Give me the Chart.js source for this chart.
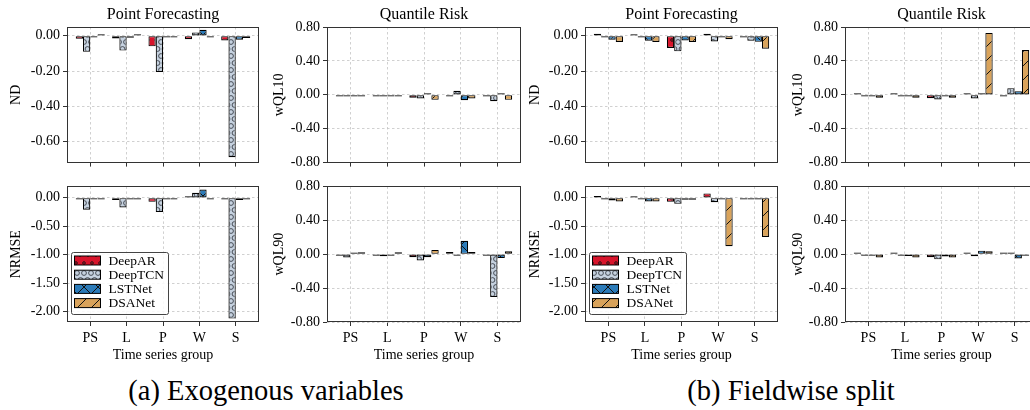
<!DOCTYPE html>
<html><head><meta charset="utf-8">
<script src="https://cdn.jsdelivr.net/npm/chart.js@4/dist/chart.umd.min.js"></script>
<style>
html,body{margin:0;padding:0;background:#fff;overflow:hidden}
#fig{position:relative;width:1030px;height:410px;overflow:hidden;background:#fff}
#fig canvas{position:absolute}
.cap{position:absolute;font-family:'Liberation Serif','Times New Roman',serif;font-size:28.5px;line-height:30px;color:#000;white-space:nowrap;transform:translateX(-50%)}
</style></head><body>
<div id="fig">
<canvas id="c0"></canvas><canvas id="c1"></canvas><canvas id="c2"></canvas><canvas id="c3"></canvas>
<canvas id="c4"></canvas><canvas id="c5"></canvas><canvas id="c6"></canvas><canvas id="c7"></canvas>
<div class="cap" style="left:266px;top:376px">(a) Exogenous variables</div>
<div class="cap" style="left:791px;top:376px">(b) Fieldwise split</div>
</div>
<script>
const groups = ['PS', 'L', 'P', 'W', 'S'];
const models = ['DeepAR', 'DeepTCN', 'LSTNet', 'DSANet'];
const ndTicks = [0, -0.2, -0.4, -0.6];
const wqlTicks = [0.8, 0.4, 0, -0.4, -0.8];
const nrmseTicks = [0, -0.5, -1, -1.5, -2];

// (a) Exogenous variables — rows: DeepAR, DeepTCN, LSTNet, DSANet; cols: PS, L, P, W, S
const exoND = [
  [-0.017, -0.015, -0.060, -0.019, -0.026],
  [-0.091, -0.084, -0.205, 0.019, -0.689],
  [-0.003, -0.011, -0.004, 0.034, -0.022],
  [0.002, 0.002, -0.009, -0.009, -0.013]
];
const exoWQL10 = [
  [-0.004, -0.004, -0.035, -0.016, -0.004],
  [-0.006, -0.020, -0.043, 0.047, -0.075],
  [-0.004, -0.008, 0.011, -0.063, 0.004],
  [-0.006, -0.005, -0.059, -0.043, -0.059]
];
const exoNRMSE = [
  [-0.030, -0.040, -0.070, 0.006, -0.010],
  [-0.210, -0.170, -0.250, 0.087, -2.120],
  [-0.010, -0.030, -0.008, 0.145, -0.040],
  [-0.005, -0.005, -0.008, -0.020, -0.010]
];
const exoWQL90 = [
  [-0.004, -0.005, -0.035, 0.027, -0.019],
  [-0.038, -0.023, -0.073, -0.004, -0.504],
  [0.015, -0.005, -0.035, 0.158, -0.046],
  [0.023, 0.023, 0.050, 0.027, 0.035]
];
// (b) Fieldwise split
const fwND = [
  [0.011, 0.009, -0.069, 0.011, -0.004],
  [-0.009, -0.005, -0.088, -0.032, -0.028],
  [-0.022, -0.028, -0.026, -0.005, -0.034],
  [-0.035, -0.035, -0.035, -0.019, -0.073]
];
const fwWQL10 = [
  [0.002, 0.002, -0.040, 0.012, -0.020],
  [-0.002, -0.002, -0.054, -0.043, 0.078],
  [-0.005, -0.008, -0.005, 0.005, 0.043],
  [-0.035, -0.035, -0.035, 0.730, 0.528]
];
const fwNRMSE = [
  [0.030, 0.010, -0.070, 0.076, -0.030],
  [-0.030, -0.010, -0.105, -0.076, -0.010],
  [-0.047, -0.064, -0.035, -0.005, -0.005],
  [-0.064, -0.064, -0.035, -0.850, -0.686]
];
const fwWQL90 = [
  [0.003, 0.003, -0.035, 0.015, 0.012],
  [-0.002, -0.002, -0.060, -0.023, 0.005],
  [-0.005, -0.020, -0.027, 0.042, -0.050],
  [-0.038, -0.038, -0.038, 0.035, -0.008]
];

const FONT = "'Liberation Serif','Times New Roman',serif";
Chart.defaults.font.family = FONT;
Chart.defaults.font.size = 14;
Chart.defaults.color = '#000';

const fillColors = ['#d7142b', '#c6d2e0', '#2b7bb9', '#d9a35b'];
const hatches = ['o', 'O', 'x', '/'];

function makePattern(kind, color) {
  const c = document.createElement('canvas');
  const g = c.getContext('2d');
  if (kind === 'o' || kind === 'O') {
    const d = kind === 'o' ? 8 : 7;
    const r = kind === 'o' ? 1.3 : 2.4;
    c.width = d; c.height = 2 * d;
    g.fillStyle = color; g.fillRect(0, 0, d, 2 * d);
    g.strokeStyle = kind === 'o' ? '#111' : '#3a3f48';
    g.lineWidth = 0.9;
    const pts = [[0, 0], [d, 0], [0, 2 * d], [d, 2 * d], [d / 2, d]];
    pts.forEach(p => { g.beginPath(); g.arc(p[0], p[1], r, 0, Math.PI * 2); g.stroke(); });
  } else {
    const s = 14;
    c.width = s; c.height = s;
    g.fillStyle = color; g.fillRect(0, 0, s, s);
    g.strokeStyle = '#111'; g.lineWidth = 1;
    g.beginPath();
    g.moveTo(-1, s + 1); g.lineTo(s + 1, -1);
    g.moveTo(-1, 1); g.lineTo(1, -1);
    g.moveTo(s - 1, s + 1); g.lineTo(s + 1, s - 1);
    if (kind === 'x') {
      g.moveTo(-1, -1); g.lineTo(s + 1, s + 1);
      g.moveTo(s - 1, -1); g.lineTo(s + 1, 1);
      g.moveTo(-1, s - 1); g.lineTo(1, s + 1);
    }
    g.stroke();
  }
  return g.createPattern(c, 'repeat');
}

const framePlugin = {
  id: 'frame',
  afterDatasetsDraw(chart) {
    const { ctx, chartArea: a } = chart;
    ctx.save();
    ctx.strokeStyle = '#333';
    ctx.lineWidth = 1;
    const l = Math.round(a.left) + 0.5, t = Math.round(a.top) + 0.5;
    const r = Math.round(a.right) - 0.5, b = Math.round(a.bottom) - 0.5;
    ctx.strokeRect(l, t, r - l, b - t);
    ctx.restore();
  }
};

function makeTitlePlugin(text) {
  return {
    id: 'panelTitle',
    afterDraw(chart) {
      if (!text) return;
      const { ctx, chartArea: a } = chart;
      ctx.save();
      ctx.font = '16px ' + FONT;
      ctx.fillStyle = '#000';
      ctx.textAlign = 'center';
      ctx.textBaseline = 'middle';
      ctx.fillText(text, (a.left + a.right) / 2, 15);
      ctx.restore();
    }
  };
}

function makeLegendPlugin(pats) {
  return {
    id: 'patLegend',
    afterDraw(chart) {
      const { ctx, chartArea: a } = chart;
      const bx = Math.round(a.left) + 4.5, by = Math.round(a.bottom) - 69.5, bw = 97, bh = 62;
      ctx.save();
      ctx.fillStyle = 'rgba(255,255,255,0.85)';
      ctx.strokeStyle = '#444';
      ctx.lineWidth = 1;
      ctx.beginPath();
      if (ctx.roundRect) ctx.roundRect(bx, by, bw, bh, 2); else ctx.rect(bx, by, bw, bh);
      ctx.fill(); ctx.stroke();
      ctx.font = '13.5px ' + FONT;
      ctx.textBaseline = 'middle';
      ctx.textAlign = 'left';
      models.forEach((m, k) => {
        const cy = by + 8 + k * 14.2;
        ctx.fillStyle = pats[k];
        ctx.fillRect(bx + 3, cy - 4.5, 26, 9);
        ctx.strokeStyle = '#000';
        ctx.strokeRect(bx + 3, cy - 4.5, 26, 9);
        ctx.fillStyle = '#000';
        ctx.fillText(m, bx + 37, cy + 0.5);
      });
      ctx.restore();
    }
  };
}

const cols = [
  { left: 0, width: 262, yW: 67, yPad: 8.1 },
  { left: 265, width: 259, yW: 62, yPad: 5.6 },
  { left: 524, width: 257, yW: 61, yPad: 2.6 },
  { left: 781, width: 260, yW: 64, yPad: 8.6 }
];
const rows = [
  { top: 0, height: 174, xH: 9, padTop: 27, bottomRow: false },
  { top: 175, height: 195, xH: 48, padTop: 10, bottomRow: true }
];

function panel(idx, col, row, vals, yTitle, ticks, min, max, title, legend) {
  const cv = document.getElementById('c' + idx);
  const C = cols[col], R = rows[row];
  cv.width = C.width; cv.height = R.height;
  cv.style.left = C.left + 'px'; cv.style.top = R.top + 'px';
  cv.style.width = C.width + 'px'; cv.style.height = R.height + 'px';
  const ctx = cv.getContext('2d');
  const pats = models.map((m, k) => makePattern(hatches[k], fillColors[k]));
  const gridCommon = { color: '#c4c4c4', lineWidth: 0.8, drawTicks: true, tickLength: 4, tickColor: '#333', tickWidth: 1, tickBorderDash: [] };
  const plugins = [framePlugin, makeTitlePlugin(title)];
  if (legend) plugins.push(makeLegendPlugin(pats));
  return new Chart(ctx, {
    type: 'bar',
    data: {
      datasets: models.map((m, k) => ({
        label: m,
        data: groups.map((g, i) => ({ x: i, y: vals[k][i] })),
        backgroundColor: pats[k],
        borderColor: '#000',
        borderWidth: 1.15,
        borderSkipped: false,
        minBarLength: 1.6,
        categoryPercentage: 0.8,
        barPercentage: 1.0
      }))
    },
    options: {
      responsive: false, animation: false, devicePixelRatio: 1,
      layout: { padding: { left: 0, right: 3, top: R.padTop, bottom: 0 } },
      plugins: {
        legend: { display: false },
        tooltip: { enabled: false },
        title: { display: false }
      },
      scales: {
        x: {
          type: 'linear', min: -0.64, max: 4.64, offset: false,
          grid: Object.assign({ offset: false }, gridCommon),
          border: { display: false, dash: [2.5, 2.5] },
          afterBuildTicks: s => { s.ticks = groups.map((g, i) => ({ value: i })); },
          ticks: { display: R.bottomRow, autoSkip: false, maxRotation: 0, padding: 3.5, color: '#000', font: { size: 14 }, callback: v => groups[v] },
          title: { display: R.bottomRow, text: 'Time series group', color: '#000', font: { size: 14 }, padding: { top: 0, bottom: 6.6 } },
          afterFit: s => { s.height = R.xH; }
        },
        y: {
          min: min, max: max,
          grid: gridCommon,
          border: { display: false, dash: [2.5, 2.5] },
          afterBuildTicks: s => { s.ticks = ticks.map(v => ({ value: v })); },
          ticks: { padding: 3, color: '#000', font: { size: 14 }, callback: v => (Math.abs(v) < 1e-9 ? 0 : v).toFixed(2) },
          title: { display: true, text: yTitle, color: '#000', font: { size: 14 }, padding: { top: C.yPad, bottom: 0 } },
          afterFit: s => { s.width = C.yW; }
        }
      }
    },
    plugins: plugins
  });
}

panel(0, 0, 0, exoND, 'ND', ndTicks, -0.72, 0.05, 'Point Forecasting', false);
panel(1, 1, 0, exoWQL10, 'wQL10', wqlTicks, -0.8, 0.8, 'Quantile Risk', false);
panel(2, 2, 0, fwND, 'ND', ndTicks, -0.72, 0.05, 'Point Forecasting', false);
panel(3, 3, 0, fwWQL10, 'wQL10', wqlTicks, -0.8, 0.8, 'Quantile Risk', false);
panel(4, 0, 1, exoNRMSE, 'NRMSE', nrmseTicks, -2.18, 0.2, null, true);
panel(5, 1, 1, exoWQL90, 'wQL90', wqlTicks, -0.8, 0.8, null, false);
panel(6, 2, 1, fwNRMSE, 'NRMSE', nrmseTicks, -2.18, 0.2, null, true);
panel(7, 3, 1, fwWQL90, 'wQL90', wqlTicks, -0.8, 0.8, null, false);
</script>
</body></html>
